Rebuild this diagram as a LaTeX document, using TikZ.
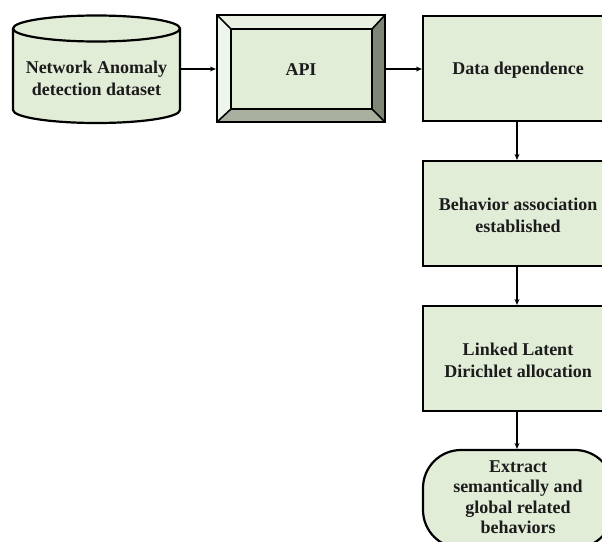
\documentclass[tikz,border=0pt]{standalone}
\usepackage{fontspec}
\setmainfont{Liberation Serif}
\usetikzlibrary{arrows.meta}
\definecolor{boxfill}{HTML}{E2EDD8}
\definecolor{bevtop}{HTML}{E9F1E2}
\definecolor{bevleft}{HTML}{EEF5EA}
\definecolor{bevright}{HTML}{7E8676}
\definecolor{bevbot}{HTML}{A8B09F}
\definecolor{txt}{HTML}{1C1C1C}
\tikzset{
  lbl/.style={font=\fontsize{18}{22}\selectfont\bfseries, text=txt, align=center, inner sep=0pt},
  stepbox/.style={draw=black, line width=2.2pt, fill=boxfill, minimum width=190pt, minimum height=105pt, inner sep=0pt},
  conn/.style={line width=2pt, -{Stealth[length=6pt,width=5pt]}},
}
\begin{document}
\begin{tikzpicture}[x=1pt,y=-1pt]
\clip (0,0) rectangle (602,541);
\fill[white] (0,0) rectangle (602,541);
% cylinder
\draw[line width=2.2pt, fill=boxfill] (13,28.5) -- (13,110) arc[start angle=180, end angle=0, x radius=83.5, y radius=13] -- (180,28.5) arc[start angle=0, end angle=-180, x radius=83.5, y radius=13] -- cycle;
\draw[line width=2.2pt] (13,28.5) arc[start angle=180, end angle=0, x radius=83.5, y radius=13];
\node[lbl, minimum width=167pt, minimum height=95pt] (ds) at (96.5,72) {};
\node[lbl] (dstext) at (96.5,78) {Network Anomaly\\detection dataset};
% API bevel
\fill[bevtop] (217,15) -- (385,15) -- (372,29) -- (231,29) -- cycle;
\fill[bevleft] (217,15) -- (231,29) -- (231,109) -- (217,122) -- cycle;
\fill[bevright] (385,15) -- (372,29) -- (372,109) -- (385,122) -- cycle;
\fill[bevbot] (217,122) -- (231,109) -- (372,109) -- (385,122) -- cycle;
\draw[line width=1.6pt, fill=boxfill] (231,29) rectangle (372,109);
\draw[line width=1.6pt] (217,15) -- (231,29) (385,15) -- (372,29) (385,122) -- (372,109) (217,122) -- (231,109);
\node[draw=black, line width=2.2pt, minimum width=168pt, minimum height=107pt, inner sep=0pt] (api) at (301,68.5) {};
\node[lbl] (apitext) at (301,70) {API};
% right column
\node[stepbox] (dd) at (518,68.5) {};
\node[lbl] (ddtext) at (518,70) {Data dependence};
\node[stepbox] (ba) at (518,213.5) {};
\node[lbl] (batext) at (518,215) {Behavior association\\established};
\node[stepbox] (ll) at (518,358.5) {};
\node[lbl] (lltext) at (518,360) {Linked Latent\\Dirichlet allocation};
\node[stepbox, rounded corners=38pt, minimum height=98pt] (ex) at (518,499) {};
\node[lbl, font=\fontsize{18}{20.5}\selectfont\bfseries] (extext) at (518,497) {Extract\\semantically and\\global related\\behaviors};
% connectors
\draw[conn] (ds.east |- 0,69) -- (api.west |- 0,69);
\draw[conn] (api.east |- 0,69) -- (dd.west |- 0,69);
\draw[conn] (dd.south -| 517,0) -- (ba.north -| 517,0);
\draw[conn] (ba.south -| 517,0) -- (ll.north -| 517,0);
\draw[conn] (ll.south -| 517,0) -- (ex.north -| 517,0);
\end{tikzpicture}
\end{document}
